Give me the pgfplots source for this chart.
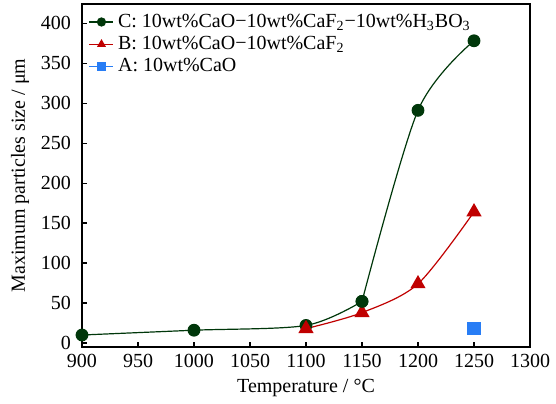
\documentclass[border=0pt]{standalone}
\usepackage{pgfplots}
\pgfplotsset{compat=1.18}
\usepackage{fontspec}
\setmainfont{Liberation Serif}
\definecolor{cC}{RGB}{0,55,10}
\definecolor{cB}{RGB}{192,0,0}
\definecolor{cA}{RGB}{40,125,245}
\begin{document}
\fontsize{10}{12}\selectfont
\begin{tikzpicture}
\begin{axis}[
  width=224pt, height=171.5pt, scale only axis,
  xmin=900, xmax=1300, ymin=-5, ymax=424,
  xtick={900,950,...,1300}, ytick={0,50,...,400},
  tick align=inside, xtick pos=bottom, ytick pos=left,
  major tick length=2.6pt,
  /pgf/number format/assume math mode=true,
  /pgf/number format/1000 sep={},
  tick label style={font=\fontsize{10}{12}\selectfont},
  yticklabel style={xshift=-2pt},
  label style={font=\fontsize{10}{12}\selectfont},
  xlabel={Temperature / °C},
  ylabel={Maximum particles size / μm},
  xlabel style={at={(axis description cs:0.5,-0.12)}, anchor=center},
  ylabel style={at={(axis description cs:-0.138,0.5)}, anchor=center},
  axis line style={line width=0.75pt},
  every tick/.style={line width=0.6pt, black},
  legend style={at={(0.01,0.99)}, anchor=north west, draw=none, fill=none,
    font=\fontsize{10}{11}\selectfont, row sep=-1pt, inner sep=1pt},
  legend cell align=left,
  legend image code/.code={\draw[#1] (0pt,0pt) -- (12pt,0pt); \draw[#1,only marks,mark size=2pt] plot coordinates {(6pt,0pt)};},
]
\addplot[cC, line width=0.6pt, smooth, mark=*, mark size=2.9pt, mark options={fill=cC, draw=cC}]
 coordinates {(900,10) (1000,16) (1100,22) (1150,52)};
\addlegendentry{C: 10wt\%CaO−10wt\%CaF\textsubscript{2}−10wt\%H\textsubscript{3}BO\textsubscript{3}}
\addplot[cB, line width=0.6pt, smooth, mark=triangle*, mark size=3.8pt, mark options={fill=cB, draw=cB}]
 coordinates {(1100,18) (1150,38) (1200,74) (1250,164)};
\addlegendentry{B: 10wt\%CaO−10wt\%CaF\textsubscript{2}}
\addplot[cA, line width=0.6pt, only marks, mark=square*, mark size=3pt, mark options={fill=cA, draw=cA}]
 coordinates {(1250,18)};
\addlegendentry{A: 10wt\%CaO}
\addplot[cC, line width=0.6pt, smooth, mark=*, mark size=2.9pt, mark options={fill=cC, draw=cC}, forget plot]
 coordinates {(1150,52) (1200,291) (1250,378)};
\end{axis}
\pgfresetboundingbox
\path ([shift={(-41pt,-28pt)}]current axis.south west) rectangle ([shift={(13pt,2pt)}]current axis.north east);
\end{tikzpicture}
\end{document}
